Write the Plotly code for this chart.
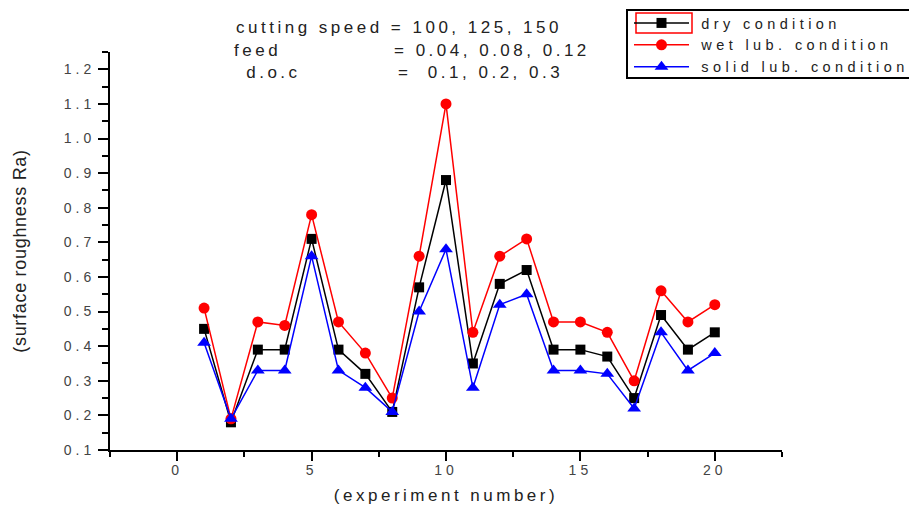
import plotly.graph_objects as go

experiment = list(range(1, 21))
dry = [0.45, 0.18, 0.39, 0.39, 0.71, 0.39, 0.32, 0.21, 0.57, 0.88,
       0.35, 0.58, 0.62, 0.39, 0.39, 0.37, 0.25, 0.49, 0.39, 0.44]
wet = [0.51, 0.19, 0.47, 0.46, 0.78, 0.47, 0.38, 0.25, 0.66, 1.10,
       0.44, 0.66, 0.71, 0.47, 0.47, 0.44, 0.30, 0.56, 0.47, 0.52]
solid = [0.41, 0.19, 0.33, 0.33, 0.66, 0.33, 0.28, 0.21, 0.50, 0.68,
         0.28, 0.52, 0.55, 0.33, 0.33, 0.32, 0.22, 0.44, 0.33, 0.38]

x_ticks = [0, 5, 10, 15, 20]
y_ticks = [0.1, 0.2, 0.3, 0.4, 0.5, 0.6, 0.7, 0.8, 0.9, 1.0, 1.1, 1.2]

series_names = ["dry condition", "wet lub. condition", "solid lub. condition"]
notes = [("cutting speed = 100, 125, 150", ""),
         ("feed", "= 0.04, 0.08, 0.12"),
         (" d.o.c", "=  0.1, 0.2, 0.3")]

FONT = "Liberation Sans, Arial, sans-serif"


def sp(t, ls=3.5):
    return f'<span style="letter-spacing:{ls}px">{t}</span>'


def leg(t):
    return '<span style="letter-spacing:4.4px">&#8201;' + t + '</span>'


fig = go.Figure()
fig.add_trace(go.Scatter(x=experiment, y=dry, mode="lines+markers", name=leg(series_names[0]),
                         line=dict(color="black", width=1.5),
                         marker=dict(symbol="square", size=10, color="black")))
fig.add_trace(go.Scatter(x=experiment, y=wet, mode="lines+markers", name=leg(series_names[1]),
                         line=dict(color="red", width=1.5),
                         marker=dict(symbol="circle", size=11, color="red")))
fig.add_trace(go.Scatter(x=experiment, y=solid, mode="lines+markers", name=leg(series_names[2]),
                         line=dict(color="blue", width=1.5),
                         marker=dict(symbol="triangle-up", size=12, color="blue")))

L, R, T, B = 110, 127, 52, 57
W, H = 909, 507
pw, ph = W - L - R, H - T - B


def px2x(px):
    return (px - L) / pw


def px2y(py):
    return (H - B - py) / ph


fig.update_layout(
    width=W, height=H,
    margin=dict(l=L, r=R, t=T, b=B, autoexpand=False),
    plot_bgcolor="white", paper_bgcolor="white",
    font=dict(family=FONT, size=17, color="#222"),
    showlegend=True,
    legend=dict(x=px2x(629), y=px2y(7), xanchor="left", yanchor="top",
                bgcolor="rgba(0,0,0,0)", borderwidth=0,
                font=dict(family=FONT, size=14.5, color="#222"),
                itemwidth=55, tracegroupgap=0),
    xaxis=dict(range=[-2.5, 22.5], showline=True, linecolor="black", linewidth=2,
               showgrid=False, zeroline=False, ticks="outside", ticklen=9, tickwidth=2,
               tickcolor="black", tickvals=x_ticks, ticktext=[sp(str(v), 4) for v in x_ticks],
               tickfont=dict(family=FONT, size=14, color="#444"),
               ticklabelstandoff=-3,
               minor=dict(dtick=2.5, tick0=0, ticks="outside", ticklen=5, tickwidth=2,
                          tickcolor="black"),
               title=dict(text=sp("(experiment number)", 3.5), standoff=12,
                          font=dict(family=FONT, size=17, color="#222"))),
    yaxis=dict(range=[0.1, 1.25], showline=True, linecolor="black", linewidth=2,
               showgrid=False, zeroline=False, ticks="outside", ticklen=10, tickwidth=2,
               tickcolor="black", tickvals=y_ticks,
               ticktext=[sp(f"{v:.1f}", 4) for v in y_ticks],
               tickfont=dict(family=FONT, size=14, color="#444"),
               ticklabelstandoff=0,
               minor=dict(dtick=0.05, tick0=0.1, ticks="outside", ticklen=6, tickwidth=2,
                          tickcolor="black"),
               title=dict(text=sp("(surface roughness Ra)", 0.7), standoff=32,
                          font=dict(family=FONT, size=18, color="#222"))),
)

# annotation block
rows_y = [27, 50, 73]
for (left, right), yy, lx in zip(notes, rows_y, [234, 232, 236]):
    fig.add_annotation(xref="paper", yref="paper", x=px2x(lx), y=px2y(yy),
                       xanchor="left", yanchor="middle", showarrow=False,
                       text=sp(left), font=dict(family=FONT, size=17, color="#222"))
    if right:
        fig.add_annotation(xref="paper", yref="paper", x=px2x(392 if yy == 50 else 396), y=px2y(yy),
                           xanchor="left", yanchor="middle", showarrow=False,
                           text=sp(right), font=dict(family=FONT, size=17, color="#222"))

# legend frame
fig.add_shape(type="rect", xref="paper", yref="paper",
              x0=px2x(627), x1=px2x(916), y0=px2y(78), y1=px2y(10),
              line=dict(color="black", width=2), fillcolor="rgba(0,0,0,0)")
# red selection box around the first legend symbol
fig.add_shape(type="rect", xref="paper", yref="paper",
              x0=px2x(636), x1=px2x(692), y0=px2y(33), y1=px2y(13),
              line=dict(color="red", width=1.5), fillcolor="rgba(0,0,0,0)")

fig.write_html("out.html", config={"displayModeBar": False},
               post_script="document.body.style.margin='0';document.body.style.overflow='hidden';")
